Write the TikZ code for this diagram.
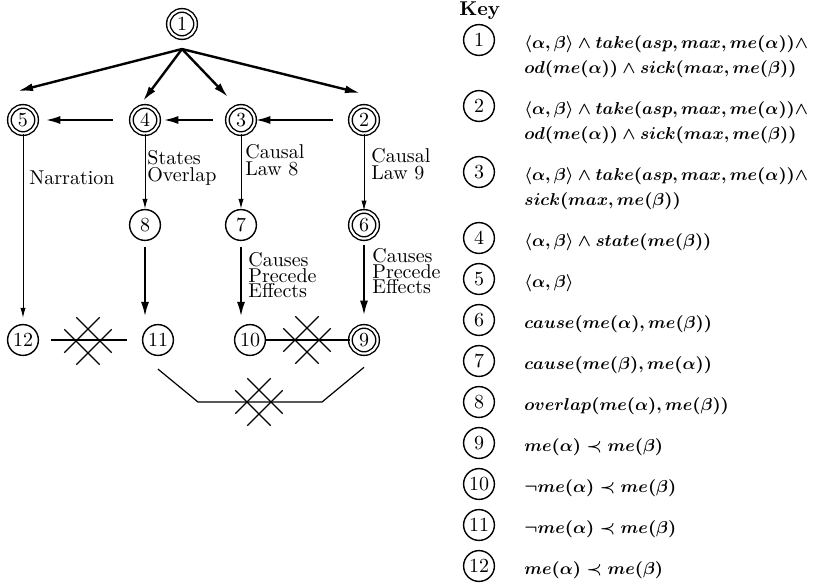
\documentclass[tikz,border=0pt]{standalone}
\usepackage{fix-cm}
\usetikzlibrary{arrows.meta}
\begin{document}
\begin{tikzpicture}[x=0.5pt,y=-0.5pt,
    state/.style={draw,circle,line width=0.7pt,minimum size=15.4pt,inner sep=0pt},
    goal/.style={state,minimum size=13.6pt,double,double distance=1.1pt},
    big/.style={line width=1.2pt,-{Latex[length=7.5pt,width=4pt]}},
    small/.style={line width=0.5pt,-{Latex[length=5pt,width=2.6pt]}},
    rule/.style={align=left,inner sep=0pt,font=\fontsize{10}{8.5}\selectfont},
    effect/.style={align=left,inner sep=0pt,font=\fontsize{10}{7.8}\selectfont},
    fact/.style={anchor=base west,inner sep=0pt,font=\fontsize{8.6}{11}\selectfont\boldmath},
    dblx/.pic={
      \draw[line width=0.6pt,rotate=45]
        (-25,-8.5) -- (25,-8.5) (-25,8.5) -- (25,8.5)
        (-8.5,-25) -- (-8.5,25) (8.5,-25) -- (8.5,25);
    }]
  \useasboundingbox (0,0) rectangle (817,584);

  % the tree
  \node[goal] (1) at (182,24) {1};
  \node[goal] (5) at (23,120) {5};
  \node[goal] (4) at (145,120) {4};
  \node[goal] (3) at (241,120) {3};
  \node[goal] (2) at (364,120) {2};
  \node[state] (8) at (145,225) {8};
  \node[state] (7) at (241,225) {7};
  \node[goal] (6) at (364,225) {6};
  \node[state] (12) at (23,340) {12};
  \node[state] (11) at (158,340) {11};
  \node[state] (10) at (250,340) {10};
  \node[goal] (9) at (364,340) {9};

  \coordinate (hub) at (182,49);
  \coordinate (t5) at (18,91);
  \coordinate (t4) at (143,101);
  \coordinate (t3) at (228,97);
  \coordinate (t2) at (360,93);
  \draw[big] (hub) -- (t5);
  \draw[big] (hub) -- (t4);
  \draw[big] (hub) -- (t3);
  \draw[big] (hub) -- (t2);

  \draw[big,shorten <=8.5pt] (2) -- (3);
  \draw[big,shorten <=7pt,shorten >=2pt] (3) -- (4);
  \draw[big,shorten <=9pt,shorten >=4pt] (4) -- (5);

  \draw[small,shorten >=3pt] (5.south) -- (12.north);
  \draw[small] (4.south) -- (8.north);
  \draw[small] (3.south) -- (7.north);
  \draw[small] (2.south) -- (6.north);
  \draw[big,shorten <=3pt,shorten >=3.5pt] (8.south) -- (8.south |- 11.north);
  \draw[big,shorten <=3pt,shorten >=3.5pt] (7.south) -- (7.south |- 10.north);
  \draw[big,shorten <=3pt,shorten >=5pt] (6.south) -- (9.north);

  \node[rule,anchor=west] (narr) at (29,178) {Narration};
  \node[rule,anchor=north west] (sov) at (147,150) {States\\Overlap};
  \node[rule,anchor=north west] (law8) at (245,144) {Causal\\Law 8};
  \node[rule,anchor=north west] (law9) at (371,148) {Causal\\Law 9};
  \node[effect,anchor=north west] (cpe7) at (248,252) {Causes\\Precede\\Effects};
  \node[effect,anchor=north west] (cpe6) at (372,248) {Causes\\Precede\\Effects};

  % conflicts
  \draw[line width=0.6pt,shorten <=6pt,shorten >=7.5pt] (12) -- (11);
  \pic at (88,341) {dblx};
  \draw[line width=0.6pt] (10) -- (9);
  \pic at (307,340) {dblx};
  \coordinate (bl) at (198,402);
  \coordinate (br) at (322,402);
  \draw[line width=0.6pt] ([yshift=-6.5pt]11.south) -- (bl) -- (br) -- ([yshift=-6.5pt]9.south);
  \pic at (259,402) {dblx};

  % the key
  \node[anchor=west,inner sep=0pt,font=\bfseries] (key) at (459,11) {Key};
  \node[state] (k1) at (479,40) {1};
  \node[state] (k2) at (479,106) {2};
  \node[state] (k3) at (479,172) {3};
  \node[state] (k4) at (479,238) {4};
  \node[state] (k5) at (479,279) {5};
  \node[state] (k6) at (479,320) {6};
  \node[state] (k7) at (479,361) {7};
  \node[state] (k8) at (479,402) {8};
  \node[state] (k9) at (479,443) {9};
  \node[state] (k10) at (479,484) {10};
  \node[state] (k11) at (479,525) {11};
  \node[state] (k12) at (479,566) {12};
  \node[fact] (d1) at (524,48) {$\langle\alpha,\beta\rangle\wedge take(asp,max,me(\alpha))\wedge$};
  \node[fact] (d1b) at (524,73) {$od(me(\alpha))\wedge sick(max,me(\beta))$};
  \node[fact] (d2) at (524,114) {$\langle\alpha,\beta\rangle\wedge take(asp,max,me(\alpha))\wedge$};
  \node[fact] (d2b) at (524,139) {$od(me(\alpha))\wedge sick(max,me(\beta))$};
  \node[fact] (d3) at (524,180) {$\langle\alpha,\beta\rangle\wedge take(asp,max,me(\alpha))\wedge$};
  \node[fact] (d3b) at (524,205) {$sick(max,me(\beta))$};
  \node[fact] (d4) at (524,246) {$\langle\alpha,\beta\rangle\wedge state(me(\beta))$};
  \node[fact] (d5) at (524,287) {$\langle\alpha,\beta\rangle$};
  \node[fact] (d6) at (524,328) {$cause(me(\alpha),me(\beta))$};
  \node[fact] (d7) at (524,369) {$cause(me(\beta),me(\alpha))$};
  \node[fact] (d8) at (524,410) {$overlap(me(\alpha),me(\beta))$};
  \node[fact] (d9) at (524,451) {$me(\alpha)\prec me(\beta)$};
  \node[fact] (d10) at (524,492) {$\neg me(\alpha)\prec me(\beta)$};
  \node[fact] (d11) at (524,533) {$\neg me(\alpha)\prec me(\beta)$};
  \node[fact] (d12) at (524,574) {$me(\alpha)\prec me(\beta)$};
\end{tikzpicture}
\end{document}
